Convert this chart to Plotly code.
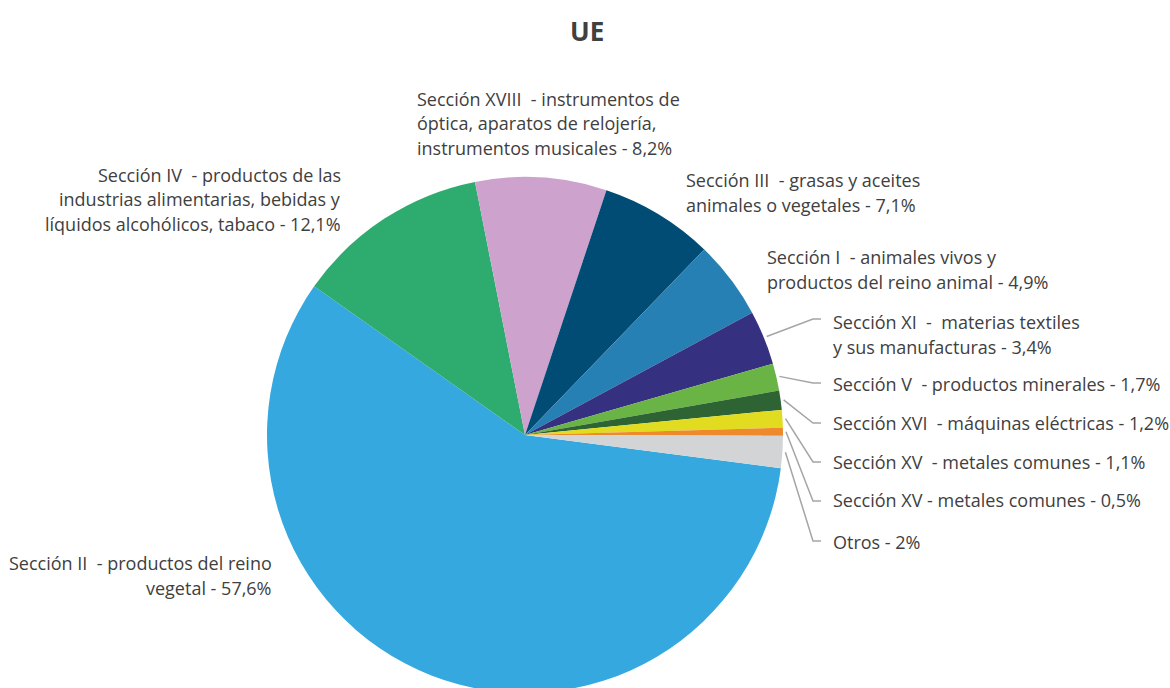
import math
import plotly.graph_objects as go

W, H = 1170, 700
OFF = 0  # body margin removed via post_script

# ---- data ----
sections = ["Sección II", "Sección IV", "Sección XVIII", "Sección III", "Sección I",
            "Sección XI", "Sección V", "Sección XVI", "Sección XV", "Sección XV ", "Otros"]
values = [57.6, 12.1, 8.2, 7.1, 4.9, 3.4, 1.7, 1.2, 1.1, 0.5, 2.0]
colors = ["#35A8DF", "#2EAB6F", "#CDA2CD", "#004C74", "#2780B4", "#35307F",
          "#6AB445", "#2E6433", "#E1DC1F", "#EF8A2C", "#D3D4D6"]
label_lines = [
    ["Sección II  - productos del reino", "vegetal - 57,6%"],
    ["Sección IV  - productos de las", "industrias alimentarias, bebidas y",
     "líquidos alcohólicos, tabaco - 12,1%"],
    ["Sección XVIII  - instrumentos de", "óptica, aparatos de relojería,",
     "instrumentos musicales - 8,2%"],
    ["Sección III  - grasas y aceites", "animales o vegetales - 7,1%"],
    ["Sección I  - animales vivos y", "productos del reino animal - 4,9%"],
    ["Sección XI  -  materias textiles", "y sus manufacturas - 3,4%"],
    ["Sección V  - productos minerales - 1,7%"],
    ["Sección XVI  - máquinas eléctricas - 1,2%"],
    ["Sección XV  - metales comunes - 1,1%"],
    ["Sección XV - metales comunes - 0,5%"],
    ["Otros - 2%"],
]

# ---- layout (window pixels) ----
cx, cy, R = 525, 435, 258
rotation = 97.4

# label placement: (x, first line y, anchor)
label_pos = [
    (274, 563, "right"),
    (343, 175, "right"),
    (415, 99, "left"),
    (684, 180, "left"),
    (765, 257, "left"),
    (831, 322, "left"),
    (831, 384, "left"),
    (831, 423, "left"),
    (831, 462, "left"),
    (831, 500, "left"),
    (831, 542, "left"),
]
leader = {5: 319, 6: 383, 7: 423, 8: 462, 9: 501, 10: 541}
line_gap = 24.5

def px(x):
    return (x - OFF) / W

def py(y):
    return 1 - (y - OFF) / H

fig = go.Figure(go.Pie(
    labels=sections, values=values, sort=False, direction="clockwise",
    rotation=rotation, marker=dict(colors=colors, line=dict(width=0)),
    textinfo="none", hoverinfo="label+percent", showlegend=False,
    domain=dict(x=[px(cx - R), px(cx + R)], y=[py(cy + R), py(cy - R)]),
))

font = dict(family="'Open Sans', Lato, sans-serif", size=18, color="#404040")
annotations = [dict(text="<b>UE</b>", x=px(587), y=py(31), xref="paper", yref="paper",
                    showarrow=False, xanchor="center", yanchor="middle",
                    font=dict(family="'Open Sans', Lato, sans-serif", size=26, color="#404040"))]
for i, lines in enumerate(label_lines):
    x0, y0, anc = label_pos[i]
    for j, t in enumerate(lines):
        annotations.append(dict(text=t, x=px(x0), y=py(y0 + j * line_gap), xref="paper",
                                yref="paper", showarrow=False, xanchor=anc,
                                yanchor="middle", font=font))

total = sum(values)
shapes = []
cum = 0.0
for i, v in enumerate(values):
    mid = rotation + (cum + v / 2) / total * 360
    cum += v
    if i in leader:
        a = math.radians(mid)
        sx = cx + (R + 3) * math.sin(a)
        sy = cy - (R + 3) * math.cos(a)
        ly = leader[i]
        path = f"M {px(sx)} {py(sy)} L {px(813)} {py(ly)} L {px(821)} {py(ly)}"
        shapes.append(dict(type="path", path=path, xref="paper", yref="paper",
                           line=dict(color="#A5A5A5", width=1.5)))

fig.update_layout(width=W, height=H, margin=dict(l=0, r=0, t=0, b=0),
                  paper_bgcolor="white", plot_bgcolor="white",
                  annotations=annotations, shapes=shapes)
fig.write_html("out.html", config={"displayModeBar": False},
               post_script="document.body.style.margin='0';document.body.style.overflow='hidden';"
                           "document.documentElement.style.overflow='hidden';")
